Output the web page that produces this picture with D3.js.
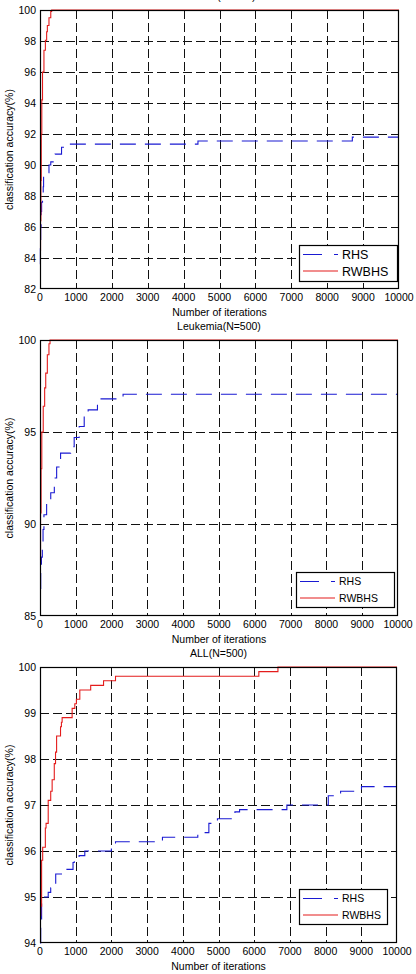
<!DOCTYPE html>
<html>
<head>
<meta charset="utf-8">
<script src="https://cdn.jsdelivr.net/npm/d3@7"></script>
<style>
  body { margin: 0; background: #fff; }
  svg { display: block; font-family: "Liberation Sans", Arial, sans-serif; }
</style>
</head>
<body>
<svg id="chart" width="416" height="974"></svg>
<script>
// data: [iteration, accuracy]
const iterTicks = [0, 1000, 2000, 3000, 4000, 5000, 6000, 7000, 8000, 9000, 10000];
const titles = ["DLBCL(N=500)", "Leukemia(N=500)", "ALL(N=500)"];
const seriesNames = ["RHS", "RWBHS"];

const yTicksDLBCL = [82, 84, 86, 88, 90, 92, 94, 96, 98, 100];
const yTicksLeukemia = [85, 90, 95, 100];
const yTicksALL = [94, 95, 96, 97, 98, 99, 100];

const rhsDLBCL = [[0, 83.6], [10, 84.6], [20, 86], [30, 87], [45, 87.6], [70, 88.2], [90, 88.6],
  [100, 89.3], [190, 89.5], [250, 90], [300, 90.2], [420, 90.7], [600, 91.15], [760, 91.35],
  [4400, 91.55], [8700, 91.8], [10000, 91.8]];
const rwbhsDLBCL = [[0, 84.5], [15, 86.4], [25, 89], [35, 92], [50, 94.2], [70, 96], [110, 97.4],
  [150, 98.05], [185, 98.6], [205, 99], [250, 99.5], [300, 99.9], [325, 100], [10000, 100]];

const rhsLeukemia = [[0, 86.5], [20, 87.5], [40, 88.2], [65, 89], [85, 89.7], [110, 90.5],
  [185, 91.1], [300, 91.7], [400, 92.5], [465, 93.1], [575, 93.85], [855, 94.2], [955, 94.7],
  [1095, 95.3], [1235, 95.9], [1345, 96.2], [1605, 96.8], [2320, 97.05], [10000, 97.05]];
const rwbhsLeukemia = [[0, 88], [15, 90.6], [30, 93], [50, 95], [90, 96.4], [130, 97.4],
  [160, 98.2], [205, 99.2], [250, 99.8], [280, 100], [10000, 100]];

const rhsALL = [[0, 94], [20, 94.5], [45, 95], [230, 95.1], [300, 95.2], [440, 95.5], [650, 95.6],
  [925, 95.75], [960, 95.8], [1095, 95.9], [1255, 96], [2000, 96.13], [2115, 96.2], [3430, 96.3],
  [4420, 96.4], [4730, 96.6], [4970, 96.7], [5460, 96.85], [5590, 96.9], [6915, 97], [8075, 97.2],
  [8420, 97.3], [9005, 97.4], [10000, 97.4]];
const rwbhsALL = [[0, 94.6], [20, 94.8], [45, 95.8], [75, 96.08], [150, 96.5], [170, 96.6],
  [230, 97.1], [300, 97.3], [340, 97.55], [400, 97.9], [435, 98.15], [465, 98.5], [575, 98.7],
  [600, 98.8], [620, 98.9], [900, 99.1], [975, 99.2], [1020, 99.3], [1115, 99.5], [1420, 99.6],
  [1780, 99.7], [2115, 99.8], [6130, 99.9], [6665, 100], [10000, 100]];

const blue = "#1a1ad2", red = "#e41c1c";

// page layout of each panel (pixels)
const panels = [
  {title: titles[0], yTicks: yTicksDLBCL, rhs: rhsDLBCL, rwbhs: rwbhsDLBCL,
   left: 40, right: 399, top: 10, bottom: 289, legend: {x: 299, y: 245, w: 98, h: 36, font: 12.5}},
  {title: titles[1], yTicks: yTicksLeukemia, rhs: rhsLeukemia, rwbhs: rwbhsLeukemia,
   left: 40, right: 398, top: 340, bottom: 616, legend: {x: 296, y: 572, w: 98, h: 35, font: 10.5}},
  {title: titles[2], yTicks: yTicksALL, rhs: rhsALL, rwbhs: rwbhsALL,
   left: 40, right: 397, top: 667, bottom: 943, legend: {x: 299, y: 889, w: 88, h: 35, font: 10.5}}
];

const svg = d3.select("#chart");

panels.forEach(p => {
  const g = svg.append("g");
  const x = d3.scaleLinear().domain([0, 10000]).range([p.left, p.right]);
  const y = d3.scaleLinear().domain(d3.extent(p.yTicks)).range([p.bottom, p.top]);
  const midX = (p.left + p.right) / 2;

  // dashed grid
  g.selectAll(".vgrid").data(iterTicks.slice(1, -1)).enter().append("line")
    .attr("x1", d => Math.round(x(d)) + 0.5).attr("x2", d => Math.round(x(d)) + 0.5)
    .attr("y1", p.top).attr("y2", p.bottom)
    .attr("stroke", "#111").attr("stroke-dasharray", "9,4");
  g.selectAll(".hgrid").data(p.yTicks.slice(1, -1)).enter().append("line")
    .attr("x1", p.left).attr("x2", p.right)
    .attr("y1", d => Math.round(y(d)) + 0.5).attr("y2", d => Math.round(y(d)) + 0.5)
    .attr("stroke", "#111").attr("stroke-dasharray", "9,4");

  // tick labels
  g.selectAll(".xt").data(iterTicks).enter().append("text")
    .attr("x", d => x(d)).attr("y", p.bottom + 11.5)
    .attr("text-anchor", "middle").attr("font-size", 10.5).text(d => d);
  g.selectAll(".yt").data(p.yTicks).enter().append("text")
    .attr("x", p.left - 4).attr("y", d => y(d) + 3.8)
    .attr("text-anchor", "end").attr("font-size", 10.5).text(d => d);

  g.append("text").attr("x", midX).attr("y", p.bottom + 27)
    .attr("text-anchor", "middle").attr("font-size", 10.5).text("Number of iterations");
  g.append("text").attr("x", midX).attr("y", p.top - 10)
    .attr("text-anchor", "middle").attr("font-size", 10.5).text(p.title);
  g.append("text")
    .attr("transform", `translate(12.5,${(p.top + p.bottom) / 2}) rotate(-90)`)
    .attr("text-anchor", "middle").attr("font-size", 10.5).text("classification accuracy(%)");

  // series
  const line = d3.line().x(d => x(d[0])).y(d => y(d[1])).curve(d3.curveStepAfter);
  g.append("path").datum(p.rhs).attr("d", line)
    .attr("fill", "none").attr("stroke", blue).attr("stroke-width", 1.1)
    .attr("stroke-dasharray", "16,9");
  g.append("path").datum(p.rwbhs).attr("d", line)
    .attr("fill", "none").attr("stroke", red).attr("stroke-width", 1.1);

  // axes box
  g.append("rect").attr("x", p.left + 0.5).attr("y", p.top + 0.5)
    .attr("width", p.right - p.left - 1).attr("height", p.bottom - p.top - 1)
    .attr("fill", "none").attr("stroke", "#000").attr("stroke-width", 1.2);

  // legend
  const L = p.legend;
  const lg = g.append("g");
  lg.append("rect").attr("x", L.x + 0.5).attr("y", L.y + 0.5).attr("width", L.w).attr("height", L.h)
    .attr("fill", "#fff").attr("stroke", "#000").attr("stroke-width", 1.2);
  const rows = [{name: seriesNames[0], color: blue, dash: "19,12"}, {name: seriesNames[1], color: red, dash: null}];
  rows.forEach((r, i) => {
    const cy = L.y + 9.5 + i * 16.5;
    lg.append("line").attr("x1", L.x + 4).attr("x2", L.x + 39)
      .attr("y1", cy).attr("y2", cy).attr("stroke", r.color).attr("stroke-width", 1.1)
      .attr("stroke-dasharray", r.dash);
    lg.append("text").attr("x", L.x + 43).attr("y", cy + L.font * 0.36)
      .attr("font-size", L.font).text(r.name);
  });
});
</script>
</body>
</html>
